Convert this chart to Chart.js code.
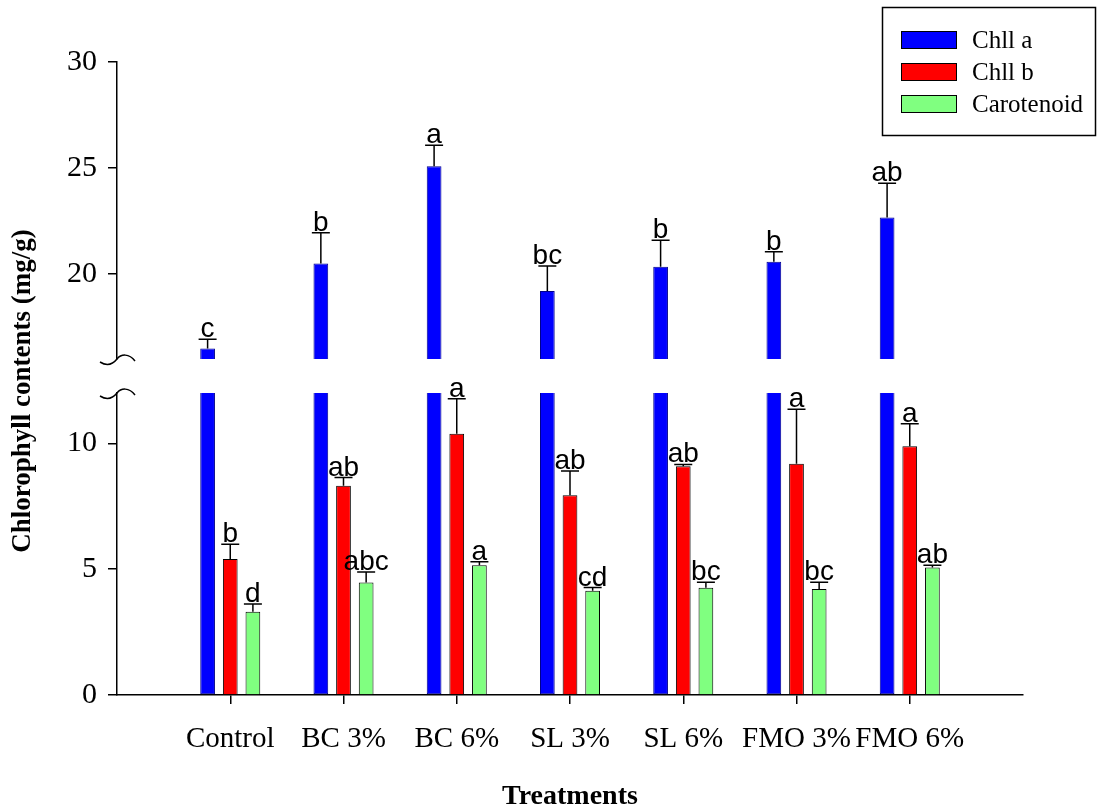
<!DOCTYPE html>
<html>
<head>
<meta charset="utf-8">
<script src="https://cdn.jsdelivr.net/npm/chart.js@4.4.1/dist/chart.umd.min.js"></script>
<style>
  body { margin: 0; background: #fff; }
  canvas { display: block; }
</style>
</head>
<body>
<canvas id="chart" width="1097" height="809"></canvas>
<script>
// treatments on the x axis
const categories = ['Control', 'BC 3%', 'BC 6%', 'SL 3%', 'SL 6%', 'FMO 3%', 'FMO 6%'];

// means and error bars (mg/g)
const chllA = [16.5, 20.5, 25.09, 19.21, 20.35, 20.58, 22.67];
const chllAErr = [0.43, 1.45, 0.99, 1.17, 1.25, 0.47, 1.61];
const chllB = [5.40, 8.31, 10.38, 7.94, 9.09, 9.19, 9.88];
const chllBErr = [0.59, 0.33, 1.39, 0.96, 0.07, 2.16, 0.90];
const carot = [3.31, 4.47, 5.16, 4.14, 4.26, 4.21, 5.07];
const carotErr = [0.31, 0.42, 0.13, 0.13, 0.22, 0.27, 0.09];

// significance letters
const lettersA = ['c', 'b', 'a', 'bc', 'b', 'b', 'ab'];
const lettersB = ['b', 'ab', 'a', 'ab', 'ab', 'a', 'a'];
const lettersC = ['d', 'abc', 'a', 'cd', 'bc', 'bc', 'ab'];

// broken y axis: two segments
const lowTicks = [0, 5, 10];
const highTicks = [20, 25, 30];
const lowRange = [0, 12];
const highRange = [16, 30];

const serif = 'Liberation Serif, Times New Roman, serif';
const toPoints = vals => vals.map((v, i) => ({ x: i + 1, y: v }));

// error bars + letters above each bar
const errorBars = {
    id: 'errorBars',
    afterDatasetsDraw(chart) {
        const ctx = chart.ctx;
        chart.data.datasets.forEach((ds, di) => {
            if (!ds.errors) return;
            const meta = chart.getDatasetMeta(di);
            const scale = chart.scales[ds.yAxisID];
            meta.data.forEach((bar, i) => {
                const capY = scale.getPixelForValue(ds.data[i].y + ds.errors[i]);
                ctx.save();
                ctx.strokeStyle = '#000';
                ctx.lineWidth = 1.5;
                ctx.beginPath();
                ctx.moveTo(bar.x, bar.y);
                ctx.lineTo(bar.x, capY);
                ctx.moveTo(bar.x - 9, capY);
                ctx.lineTo(bar.x + 9, capY);
                ctx.stroke();
                ctx.fillStyle = '#000';
                ctx.font = '28px Liberation Sans, Arial, sans-serif';
                ctx.textAlign = 'center';
                ctx.textBaseline = 'alphabetic';
                ctx.fillText(ds.letters[i], bar.x, capY - 2);
                ctx.restore();
            });
        });
    }
};

// break marks on the y axis, y title and legend box
const decorations = {
    id: 'decorations',
    afterDraw(chart) {
        const ctx = chart.ctx;
        const hi = chart.scales.yHigh, lo = chart.scales.yLow;
        const x = hi.right;
        ctx.save();
        ctx.strokeStyle = '#000';
        ctx.lineWidth = 1.5;
        [hi.bottom, lo.top].forEach(y => {
            ctx.beginPath();
            ctx.moveTo(x - 17, y + 3);
            ctx.bezierCurveTo(x - 9, y + 8, x - 4, y + 5, x, y);
            ctx.bezierCurveTo(x + 4, y - 5, x + 12, y - 6, x + 18, y + 2);
            ctx.stroke();
        });

        // y axis title
        ctx.fillStyle = '#000';
        ctx.font = 'bold 27px ' + serif;
        ctx.textAlign = 'center';
        ctx.textBaseline = 'middle';
        ctx.translate(23, 391);
        ctx.rotate(-Math.PI / 2);
        ctx.fillText('Chlorophyll contents (mg/g)', 0, 0);
        ctx.restore();

        // legend
        ctx.save();
        ctx.strokeStyle = '#000';
        ctx.lineWidth = 1.5;
        ctx.strokeRect(882.5, 7.5, 213, 128);
        const items = chart.data.datasets.filter(ds => ds.inLegend !== false);
        ctx.font = '25px ' + serif;
        ctx.textBaseline = 'middle';
        ctx.textAlign = 'left';
        items.forEach((ds, i) => {
            const cy = 40 + i * 32;
            ctx.fillStyle = ds.backgroundColor;
            ctx.fillRect(901, cy - 9, 56, 18);
            ctx.lineWidth = 1;
            ctx.strokeStyle = '#000';
            ctx.strokeRect(901.5, cy - 8.5, 55, 17);
            ctx.fillStyle = '#000';
            ctx.fillText(ds.label, 972, cy + 1);
        });
        ctx.restore();
    }
};

const axisLine = { display: true, color: '#000', width: 1.5 };
const tickMarks = { display: true, drawOnChartArea: false, drawTicks: true, tickLength: 9, color: '#000', lineWidth: 1.5, offset: false };

new Chart(document.getElementById('chart'), {
    type: 'bar',
    data: {
        datasets: [
            {
                label: 'Chll a', stack: 'a', yAxisID: 'yHigh',
                data: toPoints(chllA), errors: chllAErr, letters: lettersA,
                backgroundColor: '#0000ff', borderColor: '#00008b', borderWidth: 1, borderSkipped: 'start'
            },
            {
                label: 'Chll a', stack: 'a', yAxisID: 'yLow', inLegend: false,
                data: toPoints(chllA.map(v => Math.min(v, lowRange[1]))),
                backgroundColor: '#0000ff', borderColor: '#00008b', borderWidth: 1, borderSkipped: 'top'
            },
            {
                label: 'Chll b', stack: 'b', yAxisID: 'yLow',
                data: toPoints(chllB), errors: chllBErr, letters: lettersB,
                backgroundColor: '#ff0000', borderColor: '#000', borderWidth: 1
            },
            {
                label: 'Carotenoid', stack: 'c', yAxisID: 'yLow',
                data: toPoints(carot), errors: carotErr, letters: lettersC,
                backgroundColor: '#80ff80', borderColor: '#000', borderWidth: 1
            }
        ]
    },
    options: {
        responsive: false,
        animation: false,
        layout: { padding: { top: 62, right: 74, bottom: 0, left: 0 } },
        datasets: { bar: { categoryPercentage: 0.6, barPercentage: 0.65 } },
        plugins: { legend: { display: false }, tooltip: { enabled: false } },
        scales: {
            x: {
                type: 'linear', min: 0, max: 8, offset: false,
                afterBuildTicks: s => { s.ticks = categories.map((c, i) => ({ value: i + 1 })); },
                afterFit: s => { s.height = 114; },
                grid: tickMarks,
                border: axisLine,
                ticks: {
                    callback: v => categories[v - 1],
                    font: { family: serif, size: 29 }, color: '#000',
                    maxRotation: 0, autoSkip: false, padding: 18
                },
                title: {
                    display: true, text: 'Treatments', color: '#000', padding: { top: 0, bottom: -2 },
                    font: { family: serif, size: 28, weight: 'bold', lineHeight: 1 }
                }
            },
            yHigh: {
                type: 'linear', position: 'left', stack: 'v', stackWeight: 297, weight: 3,
                min: highRange[0], max: highRange[1], stacked: false,
                afterBuildTicks: s => { s.ticks = highTicks.map(v => ({ value: v })); },
                afterFit: s => { s.width = 117; },
                grid: tickMarks, border: axisLine,
                ticks: { font: { family: serif, size: 30 }, color: '#000', padding: 11 }
            },
            yGap: {
                type: 'linear', position: 'left', stack: 'v', stackWeight: 34, weight: 2,
                min: 0, max: 1,
                afterFit: s => { s.width = 117; },
                grid: { display: false }, border: { display: false }, ticks: { display: false }
            },
            yLow: {
                type: 'linear', position: 'left', stack: 'v', stackWeight: 302, weight: 1,
                min: lowRange[0], max: lowRange[1], stacked: false,
                afterBuildTicks: s => { s.ticks = lowTicks.map(v => ({ value: v })); },
                afterFit: s => { s.width = 117; },
                grid: tickMarks, border: axisLine,
                ticks: { font: { family: serif, size: 30 }, color: '#000', padding: 11 }
            }
        }
    },
    plugins: [errorBars, decorations]
});
</script>
</body>
</html>
